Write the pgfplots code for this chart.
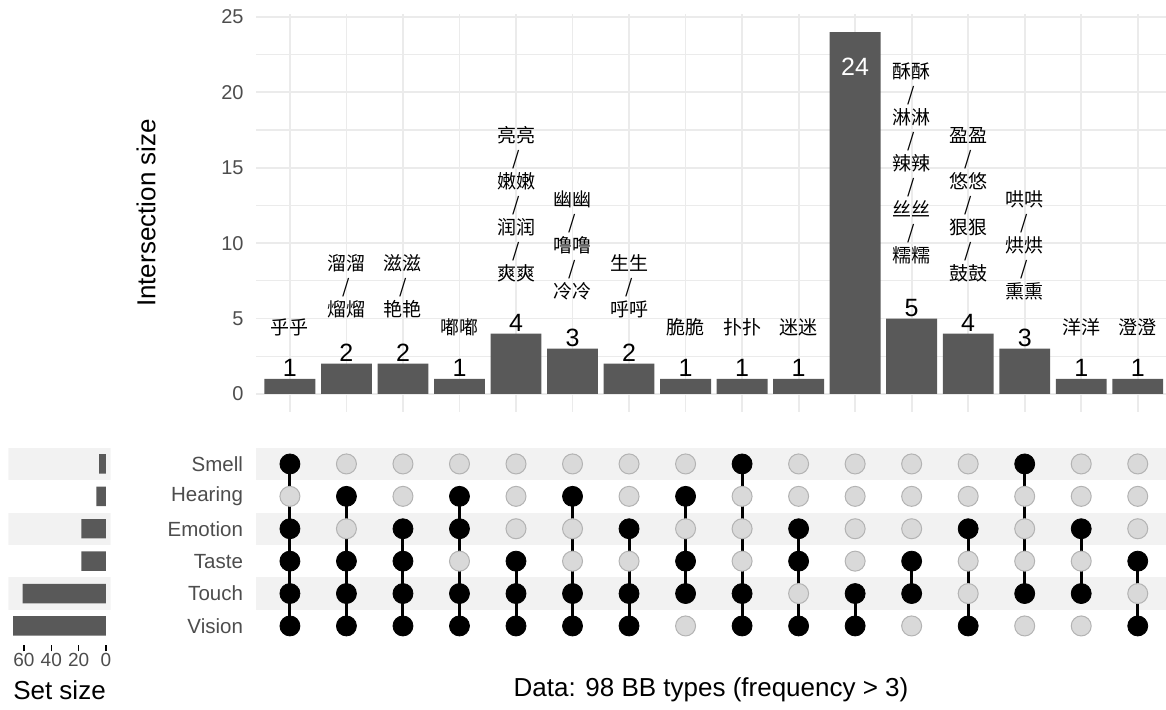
\documentclass[border=0pt]{standalone}
\usepackage{fontspec}
\setmainfont{Liberation Sans}
\newfontfamily\cjk{Noto Sans CJK SC}
\usepackage{pgfplots}
\usepackage{pgfplotstable}
\pgfplotsset{compat=1.18}
\pgfplotsset{/pgf/number format/assume math mode=true}

\definecolor{bargrey}{HTML}{595959}
\definecolor{gridgrey}{HTML}{EBEBEB}
\definecolor{stripe}{HTML}{F2F2F2}
\definecolor{txtgrey}{HTML}{4D4D4D}
\definecolor{dotgrey}{HTML}{D9D9D9}
\definecolor{dotedge}{HTML}{B3B3B3}

\pgfplotstableread{
col size
1 1
2 2
3 2
4 1
5 4
6 3
7 2
8 1
9 1
10 1
11 24
12 5
13 4
14 3
15 1
16 1
}\inter

\pgfplotstableread{
row size
1 68
2 61
3 18
4 18
5 7
6 5
}\setsize

\tikzset{
  num/.style={anchor=base, inner sep=0pt, yshift=1pt, font=\fontsize{12.5}{14}\selectfont},
  lbl/.style={anchor=south, align=center, inner sep=0pt, font=\cjk\fontsize{9.5}{11.5}\selectfont},
}

\begin{document}
\begin{tikzpicture}
\path[use as bounding box] (0,0) rectangle (583pt,355pt);

% ---------------- top: intersection sizes ----------------
\begin{axis}[
  at={(128pt,149pt)}, anchor=south west, scale only axis,
  width=455pt, height=199pt,
  xmin=0.4, xmax=16.5, ymin=-1.2, ymax=25.2,
  axis line style={draw=none},
  xtick={1,...,16}, xticklabels={},
  ytick={0,5,...,25}, minor ytick={2.5,7.5,...,22.5},
  xmajorgrids, ymajorgrids, yminorgrids,
  major grid style={gridgrey, line width=0.9pt},
  minor grid style={gridgrey, line width=0.6pt},
  tick style={draw=none},
  y tick label style={font=\fontsize{10}{12}\selectfont, text=txtgrey, xshift=-2.7pt},
  ylabel={Intersection size},
  ylabel style={font=\fontsize{13}{15}\selectfont, at={(axis description cs:-0.1209,0.5)}, anchor=center},
  clip=false,
]
\addplot[ybar, bar width=0.9, fill=bargrey, draw=none] table[x=col, y=size] {\inter};

\node[num] at (axis cs:1,1) {1};
\node[num] at (axis cs:2,2) {2};
\node[num] at (axis cs:3,2) {2};
\node[num] at (axis cs:4,1) {1};
\node[num] at (axis cs:5,4) {4};
\node[num] at (axis cs:6,3) {3};
\node[num] at (axis cs:7,2) {2};
\node[num] at (axis cs:8,1) {1};
\node[num] at (axis cs:9,1) {1};
\node[num] at (axis cs:10,1) {1};
\node[num, text=white] at (axis cs:11,21.0) {24};
\node[num] at (axis cs:12,5) {5};
\node[num] at (axis cs:13,4) {4};
\node[num] at (axis cs:14,3) {3};
\node[num] at (axis cs:15,1) {1};
\node[num] at (axis cs:16,1) {1};

\node[lbl] at (axis cs:1,3.81) {乎乎};
\node[lbl] at (axis cs:2,5.01) {溜溜\\/\\熘熘};
\node[lbl] at (axis cs:3,5.01) {滋滋\\/\\艳艳};
\node[lbl] at (axis cs:4,3.81) {嘟嘟};
\node[lbl] at (axis cs:5,7.41) {亮亮\\/\\嫩嫩\\/\\润润\\/\\爽爽};
\node[lbl] at (axis cs:6,6.21) {幽幽\\/\\噜噜\\/\\冷冷};
\node[lbl] at (axis cs:7,5.01) {生生\\/\\呼呼};
\node[lbl] at (axis cs:8,3.81) {脆脆};
\node[lbl] at (axis cs:9,3.81) {扑扑};
\node[lbl] at (axis cs:10,3.81) {迷迷};
\node[lbl] at (axis cs:12,8.61) {酥酥\\/\\淋淋\\/\\辣辣\\/\\丝丝\\/\\糯糯};
\node[lbl] at (axis cs:13,7.41) {盈盈\\/\\悠悠\\/\\狠狠\\/\\鼓鼓};
\node[lbl] at (axis cs:14,6.21) {哄哄\\/\\烘烘\\/\\熏熏};
\node[lbl] at (axis cs:15,3.81) {洋洋};
\node[lbl] at (axis cs:16,3.81) {澄澄};
\end{axis}

% ---------------- matrix ----------------
\begin{axis}[
  at={(128pt,32.3pt)}, anchor=south west, scale only axis,
  width=455pt, height=100.45pt,
  xmin=0.4, xmax=16.5, ymin=0.4, ymax=6.6,
  axis line style={draw=none}, tick style={draw=none},
  xtick=\empty,
  ytick={1,...,6}, yticklabels={Vision,Touch,Taste,Emotion,Hearing,Smell},
  y tick label style={font=\fontsize{10.25}{12}\selectfont, text=txtgrey, xshift=-3pt},
  xlabel={Data: 98 BB types (frequency > 3)},
  xlabel style={font=\fontsize{13}{15}\selectfont, at={(axis description cs:0.5,-0.222)}, anchor=center},
]
\addplot[fill=stripe, draw=none] coordinates {(0.4,5.5) (16.5,5.5) (16.5,6.5) (0.4,6.5)} -- cycle;
\addplot[fill=stripe, draw=none] coordinates {(0.4,3.5) (16.5,3.5) (16.5,4.5) (0.4,4.5)} -- cycle;
\addplot[fill=stripe, draw=none] coordinates {(0.4,1.5) (16.5,1.5) (16.5,2.5) (0.4,2.5)} -- cycle;

% inactive dots
\addplot[only marks, mark=*, mark size=5pt, mark options={fill=dotgrey, draw=dotedge, line width=0.5pt}] coordinates {
(1,5)
(2,4) (2,6)
(3,5) (3,6)
(4,3) (4,6)
(5,4) (5,5) (5,6)
(6,3) (6,4) (6,6)
(7,3) (7,5) (7,6)
(8,1) (8,4) (8,6)
(9,3) (9,4) (9,5)
(10,2) (10,5) (10,6)
(11,3) (11,4) (11,5) (11,6)
(12,1) (12,4) (12,5) (12,6)
(13,2) (13,3) (13,5) (13,6)
(14,1) (14,3) (14,4) (14,5)
(15,1) (15,3) (15,5) (15,6)
(16,2) (16,4) (16,5) (16,6)
};

% connecting segments
\addplot[black, line width=1.5pt, unbounded coords=jump, mark=none] coordinates {
(1,1) (1,6) (1,nan)
(2,1) (2,5) (2,nan)
(3,1) (3,4) (3,nan)
(4,1) (4,5) (4,nan)
(5,1) (5,3) (5,nan)
(6,1) (6,5) (6,nan)
(7,1) (7,4) (7,nan)
(8,2) (8,5) (8,nan)
(9,1) (9,6) (9,nan)
(10,1) (10,4) (10,nan)
(11,1) (11,2) (11,nan)
(12,2) (12,3) (12,nan)
(13,1) (13,4) (13,nan)
(14,2) (14,6) (14,nan)
(15,2) (15,4) (15,nan)
(16,1) (16,3)
};

% active dots
\addplot[only marks, mark=*, mark size=5pt, mark options={fill=black, draw=black, line width=0.4pt}] coordinates {
(1,1) (1,2) (1,3) (1,4) (1,6)
(2,1) (2,2) (2,3) (2,5)
(3,1) (3,2) (3,3) (3,4)
(4,1) (4,2) (4,4) (4,5)
(5,1) (5,2) (5,3)
(6,1) (6,2) (6,5)
(7,1) (7,2) (7,4)
(8,2) (8,3) (8,5)
(9,1) (9,2) (9,6)
(10,1) (10,3) (10,4)
(11,1) (11,2)
(12,2) (12,3)
(13,1) (13,4)
(14,2) (14,6)
(15,2) (15,4)
(16,1) (16,3)
};
\end{axis}

% ---------------- set sizes ----------------
\begin{axis}[
  at={(4.2pt,32.3pt)}, anchor=south west, scale only axis,
  width=51.1pt, height=100.45pt,
  xmin=-3.4, xmax=71.4, x dir=reverse, ymin=0.4, ymax=6.6,
  axis line style={draw=none},
  ytick=\empty,
  xtick={0,20,40,60}, xtick align=outside, xtick pos=bottom,
  major tick length=3pt,
  x tick style={black, line width=0.75pt},
  x tick label style={font=\fontsize{9.5}{11}\selectfont, text=txtgrey, yshift=2.4pt},
  xlabel={Set size},
  xlabel style={font=\fontsize{13}{15}\selectfont, at={(axis description cs:0.5,-0.222)}, anchor=center},
]
\addplot[fill=stripe, draw=none] coordinates {(-3.4,5.5) (71.4,5.5) (71.4,6.5) (-3.4,6.5)} -- cycle;
\addplot[fill=stripe, draw=none] coordinates {(-3.4,3.5) (71.4,3.5) (71.4,4.5) (-3.4,4.5)} -- cycle;
\addplot[fill=stripe, draw=none] coordinates {(-3.4,1.5) (71.4,1.5) (71.4,2.5) (-3.4,2.5)} -- cycle;
\addplot[xbar, bar width=0.6, fill=bargrey, draw=none] table[x=size, y=row] {\setsize};
\end{axis}
\end{tikzpicture}
\end{document}
